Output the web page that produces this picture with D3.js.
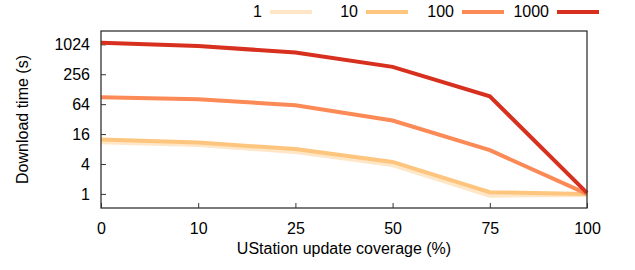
<!DOCTYPE html>
<html lang="en">
<head>
  <meta charset="utf-8">
  <title>Download time vs UStation update coverage</title>
  <script type="text/javascript" src="https://d3js.org/d3.v7.min.js"></script>
  <style>
  body { margin: 0; background: #fff; }
  svg { font-family: "Liberation Sans", Arial, sans-serif; }
  </style>
</head>
<body>
  <script>
  // chart values
  var coverage = ["0", "10", "25", "50", "75", "100"];
  var seriesNames = ["1", "10", "100", "1000"];
  var seriesColors = ["#fee6c6", "#fdc57e", "#fc8a57", "#d7301f"];
  var yTicks = [1, 4, 16, 64, 256, 1024];

  var time1 = [11, 9.6, 7, 3.8, 0.92, 0.95];
  var time10 = [12.5, 10.8, 8, 4.4, 1.08, 1];
  var time100 = [88, 80, 61, 30, 7.6, 1];
  var time1000 = [1100, 950, 700, 360, 92, 1.05];
  var allSeries = [time1, time10, time100, time1000];

  var width = 635, height = 270;
  var margin = {top: 31, right: 48, bottom: 62, left: 101};
  var fontSize = "16px";

  var svg = d3.select("body").append("svg")
    .attr("width", width)
    .attr("height", height);

  var x = d3.scalePoint()
    .domain(coverage)
    .range([margin.left, width - margin.right]);

  var y = d3.scaleLog()
    .base(2)
    .domain([0.52, 1900])
    .range([height - margin.bottom, margin.top]);

  // y axis (ticks inward)
  svg.append("g")
    .attr("transform", "translate(" + margin.left + ",0)")
    .call(d3.axisRight(y).tickValues(yTicks).tickSize(5).tickFormat(d3.format("d")))
    .call(function(g) {
      g.select(".domain").remove();
      g.selectAll("line").attr("stroke", "#333");
      g.selectAll("text")
        .attr("x", -11)
        .attr("text-anchor", "end")
        .attr("font-size", fontSize)
        .attr("font-family", null)
        .attr("fill", "#000");
    });

  // x axis (ticks inward)
  svg.append("g")
    .attr("transform", "translate(0," + (height - margin.bottom) + ")")
    .call(d3.axisTop(x).tickSize(5))
    .call(function(g) {
      g.select(".domain").remove();
      g.selectAll("line").attr("stroke", "#333");
      g.selectAll("text")
        .attr("y", 26)
        .attr("font-size", fontSize)
        .attr("font-family", null)
        .attr("fill", "#000");
    });

  var line = d3.line()
    .x(function(d, i) { return x(coverage[i]); })
    .y(function(d) { return y(d); });

  svg.selectAll(".series")
    .data(allSeries)
    .enter().append("path")
    .attr("class", "series")
    .attr("d", line)
    .attr("fill", "none")
    .attr("stroke", function(d, i) { return seriesColors[i]; })
    .attr("stroke-width", 4)
    .attr("stroke-linejoin", "miter");

  // frame
  svg.append("rect")
    .attr("x", margin.left)
    .attr("y", margin.top)
    .attr("width", width - margin.left - margin.right)
    .attr("height", height - margin.top - margin.bottom)
    .attr("fill", "none")
    .attr("stroke", "#333")
    .attr("stroke-width", 1.3);

  // legend
  var legendLineX = [270, 366, 462, 557];
  var legend = svg.selectAll(".legend")
    .data(seriesNames)
    .enter().append("g")
    .attr("class", "legend");

  legend.append("text")
    .attr("x", function(d, i) { return legendLineX[i] - 8; })
    .attr("y", 17)
    .attr("text-anchor", "end")
    .attr("font-size", fontSize)
    .text(function(d) { return d; });

  legend.append("line")
    .attr("x1", function(d, i) { return legendLineX[i]; })
    .attr("x2", function(d, i) { return legendLineX[i] + 42; })
    .attr("y1", 12)
    .attr("y2", 12)
    .attr("stroke", function(d, i) { return seriesColors[i]; })
    .attr("stroke-width", 4);

  // axis titles
  svg.append("text")
    .attr("x", (margin.left + width - margin.right) / 2)
    .attr("y", 254)
    .attr("text-anchor", "middle")
    .attr("font-size", fontSize)
    .text("UStation update coverage (%)");

  svg.append("text")
    .attr("transform", "translate(28," + ((margin.top + height - margin.bottom) / 2) + ") rotate(-90)")
    .attr("text-anchor", "middle")
    .attr("font-size", fontSize)
    .text("Download time (s)");
  </script>
</body>
</html>
